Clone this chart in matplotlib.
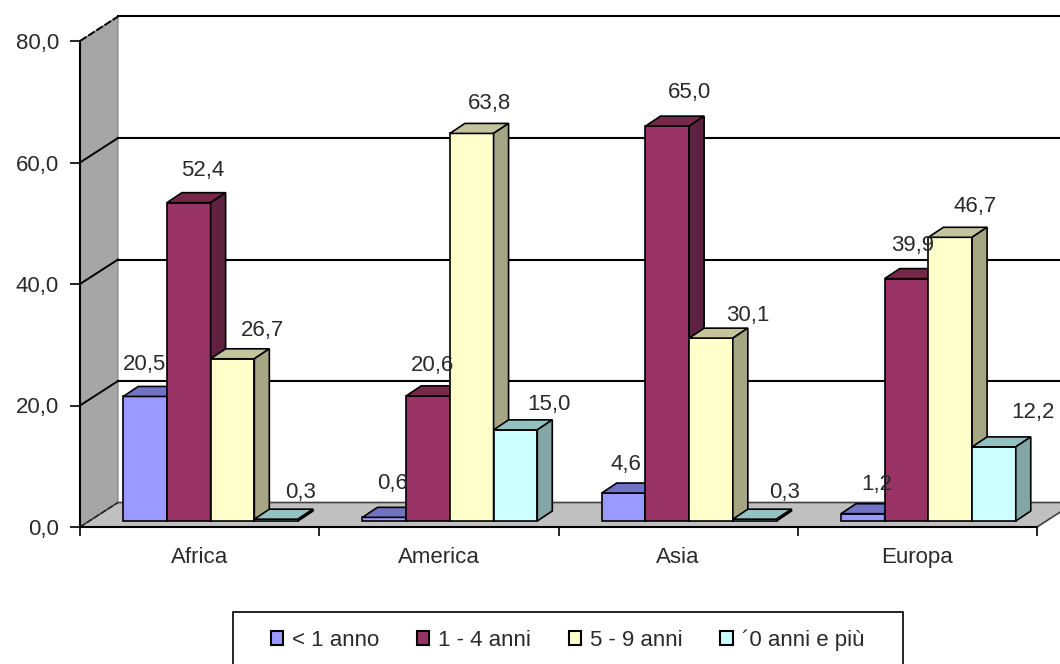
import matplotlib
matplotlib.use("Agg")
import matplotlib.pyplot as plt
from matplotlib.patches import Polygon, Patch, Rectangle

plt.rcParams['font.family'] = ['Liberation Sans', 'DejaVu Sans']

categories = ["Africa", "America", "Asia", "Europa"]
series_names = ["< 1 anno", "1 - 4 anni", "5 - 9 anni", "´0 anni e più"]
under_1 = [20.5, 0.6, 4.6, 1.2]
from_1_to_4 = [52.4, 20.6, 65.0, 39.9]
from_5_to_9 = [26.7, 63.8, 30.1, 46.7]
over_10 = [0.3, 15.0, 0.3, 12.2]
series = [under_1, from_1_to_4, from_5_to_9, over_10]
y_ticks = [0, 20, 40, 60, 80]

front_cols = ["#9999ff", "#993366", "#ffffcc", "#ccffff"]
top_cols = ["#7272c4", "#772848", "#c4c49c", "#92c2c2"]
side_cols = ["#6a6ab0", "#5e2240", "#a6a684", "#84a6a6"]

# label nudges in pixels from the centre of each bar, one row per series
label_dx = [[-1, 8, 2, 14], [14, 4, 22, 6], [30, 18, 37, 25], [24, 34, 30, 39]]
label_dy = [[32, 34, 29, 29], [32, 30, 34, 33], [28, 30, 23, 31], [27, 25, 27, 34]]

W, H = 1060, 664
LEFT, RIGHT, BASE, TOP = 80, 1037, 527, 41
TEXT_COL = "#2a2a2a"

fig = plt.figure(figsize=(W / 100, H / 100), dpi=100, facecolor="white")
ax = fig.add_axes([LEFT / W, 1 - BASE / H, (RIGHT - LEFT) / W, (BASE - TOP) / H])
ax.set_xlim(0, len(categories))
ax.set_ylim(0, 80)
ax.patch.set_visible(False)

# pixels to data units
px = len(categories) / (RIGHT - LEFT)
py = 80 / (BASE - TOP)
back_x, back_y = 38 * px, 24.5 * py
bar_w = 43.7 * px
shift_x, shift_y = 11 * px, 6 * py
depth_x, depth_y = 15 * px, 10 * py
n_cat = len(categories)

# walls and floor
ax.add_patch(Polygon([(0, 0), (0, 80), (back_x, 80 + back_y), (back_x, back_y)],
                     fc="#a6a6a6", ec="#808080", lw=0.8, clip_on=False, zorder=1))
ax.add_patch(Polygon([(0, 0), (back_x, back_y), (n_cat + back_x, back_y), (n_cat, 0)],
                     fc="#c0c0c0", ec="#404040", lw=1.2, clip_on=False, zorder=1))
for v in y_ticks[1:]:
    ls = "-" if v < 80 else (0, (4, 1))
    ax.plot([0, back_x], [v, v + back_y], color="black", lw=1.4, ls=ls, clip_on=False, zorder=1.5)
    ax.plot([back_x, n_cat + back_x], [v + back_y, v + back_y], color="black", lw=1.5,
            clip_on=False, zorder=1.5)
ax.plot([0, back_x], [0, back_y], color="#222222", lw=1, ls=(0, (4, 2)), clip_on=False, zorder=1.5)

# bars left to right, labels stay on top of all of them
z = 3
for c in range(n_cat):
    for s in range(len(series)):
        val = series[s][c]
        x0 = c + 0.5 - 2 * bar_w + s * bar_w + shift_x
        x1 = x0 + bar_w
        ax.bar(x0, val, bar_w, bottom=shift_y, align="edge", color=front_cols[s],
               edgecolor="black", lw=1.2, clip_on=False, zorder=z)
        v1 = val + shift_y
        ax.add_patch(Polygon([(x0, v1), (x1, v1), (x1 + depth_x, v1 + depth_y), (x0 + depth_x, v1 + depth_y)],
                             fc=top_cols[s], ec="black", lw=1.2, clip_on=False, zorder=z))
        ax.add_patch(Polygon([(x1, shift_y), (x1, v1), (x1 + depth_x, v1 + depth_y), (x1 + depth_x, shift_y + depth_y)],
                             fc=side_cols[s], ec="black", lw=1.2, clip_on=False, zorder=z))
        ax.text(x0 + bar_w / 2 + label_dx[s][c] * px, v1 + label_dy[s][c] * py,
                f"{val:.1f}".replace(".", ","), ha="center", va="center", fontsize=16,
                color=TEXT_COL, clip_on=False, zorder=100)
        z += 1

# axes
for side in ("top", "right"):
    ax.spines[side].set_visible(False)
ax.spines["left"].set_linewidth(1.5)
ax.spines["bottom"].set_linewidth(1.5)
ax.set_yticks(y_ticks)
ax.set_yticklabels([f"{v:.1f}".replace(".", ",") for v in y_ticks], fontsize=16, color=TEXT_COL)
ax.set_xticks(range(n_cat + 1))
ax.set_xticklabels([])
ax.set_xticks([c + 0.5 for c in range(n_cat)], categories, minor=True, fontsize=16, color=TEXT_COL)
ax.tick_params(axis="y", length=7, width=1.2, pad=8)
ax.tick_params(axis="x", which="major", length=6.5, width=1.2)
ax.tick_params(axis="x", which="minor", length=0, pad=14.5)

# legend box runs off the bottom of the picture
fig.add_artist(Rectangle((233 / W, -0.02), (903 - 233) / W, 0.02 + 1 - 612 / H, fc="white", ec="black",
                         lw=1.2, transform=fig.transFigure))
handles = [Patch(fc=col, ec="black", lw=1.5) for col in front_cols]
leg = fig.legend(handles, series_names, loc="center left", bbox_to_anchor=(271 / W, 1 - 640 / H),
                 bbox_transform=fig.transFigure, ncol=4, fontsize=16, frameon=False,
                 borderaxespad=0, borderpad=0, handlelength=0.55, handleheight=0.55,
                 handletextpad=0.4, columnspacing=1.7)
for t in leg.get_texts():
    t.set_color(TEXT_COL)

fig.savefig("out.png", dpi=100)
